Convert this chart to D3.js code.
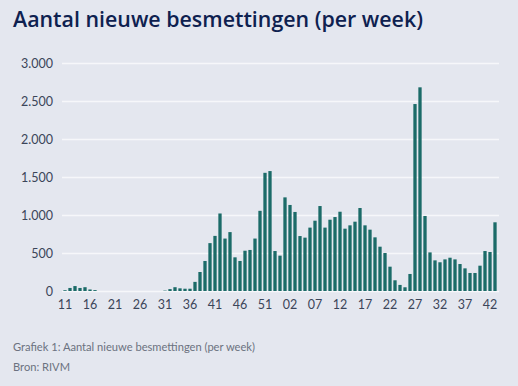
<!DOCTYPE html>
<html>
<head>
<meta charset="utf-8">
<script src="https://cdn.jsdelivr.net/npm/d3@7/dist/d3.min.js"></script>
<style>
  html, body { margin: 0; padding: 0; background: #e4e7ef; }
  svg { display: block; }
</style>
</head>
<body>
<svg id="chart" width="518" height="386"></svg>
<script>
// Week keys (year-week); 2020 had week 53, and the first days of 2021 are also reported as week 53
const weeks = [
  "2020-11","2020-12","2020-13","2020-14","2020-15","2020-16","2020-17","2020-18","2020-19","2020-20",
  "2020-21","2020-22","2020-23","2020-24","2020-25","2020-26","2020-27","2020-28","2020-29","2020-30",
  "2020-31","2020-32","2020-33","2020-34","2020-35","2020-36","2020-37","2020-38","2020-39","2020-40",
  "2020-41","2020-42","2020-43","2020-44","2020-45","2020-46","2020-47","2020-48","2020-49","2020-50",
  "2020-51","2020-52","2020-53","2021-53","2021-01","2021-02","2021-03","2021-04","2021-05","2021-06",
  "2021-07","2021-08","2021-09","2021-10","2021-11","2021-12","2021-13","2021-14","2021-15","2021-16",
  "2021-17","2021-18","2021-19","2021-20","2021-21","2021-22","2021-23","2021-24","2021-25","2021-26",
  "2021-27","2021-28","2021-29","2021-30","2021-31","2021-32","2021-33","2021-34","2021-35","2021-36",
  "2021-37","2021-38","2021-39","2021-40","2021-41","2021-42","2021-43"
];
const infections = [
  10, 40, 65, 40, 50, 20, 12, 0, 0, 0,
  0, 0, 0, 0, 0, 0, 0, 0, 0, 0,
  5, 25, 50, 35, 30, 30, 120, 250, 395, 630,
  725, 1020, 690, 775, 443, 395, 530, 540, 690, 1055,
  1555, 1578, 526, 465, 1232, 1132, 1040, 723, 702, 834,
  925, 1118, 834, 938, 973, 1043, 820, 864, 912, 1092,
  864, 807, 706, 583, 500, 320, 141, 80, 49, 224,
  2460, 2680, 987, 508, 403, 378, 416, 438, 416, 355,
  298, 237, 237, 333, 526, 513, 904
];
const yTicks = [0, 500, 1000, 1500, 2000, 2500, 3000];
const xTickWeeks = ["2020-11","2020-16","2020-21","2020-26","2020-31","2020-36","2020-41","2020-46","2020-51",
  "2021-02","2021-07","2021-12","2021-17","2021-22","2021-27","2021-32","2021-37","2021-42"];

const title = "Aantal nieuwe besmettingen (per week)";
const caption1 = "Grafiek 1: Aantal nieuwe besmettingen (per week)";
const caption2 = "Bron: RIVM";

const svg = d3.select("#chart");
const mLeft = 62, mRight = 499, mTop = 63, mBottom = 291;

svg.append("rect").attr("width", 518).attr("height", 386).attr("fill", "#e4e7ef");

const x = d3.scaleBand().domain(weeks).range([mLeft + 0.5, mRight - 1.5]).paddingInner(0.34).paddingOuter(0.17);
const y = d3.scaleLinear().domain([0, 3000]).range([mBottom, mTop]);

// gridlines
svg.append("g").selectAll("line").data(yTicks).join("line")
  .attr("x1", mLeft).attr("x2", mRight)
  .attr("y1", d => Math.round(y(d)) + 0.5).attr("y2", d => Math.round(y(d)) + 0.5)
  .attr("stroke", "#f6f7fa").attr("stroke-width", 1.3);

// y axis labels
const fmt = d => d3.format(",")(d).replace(/,/g, ".");
const yAxis = d3.axisLeft(y).tickValues(yTicks).tickFormat(fmt).tickSize(0).tickPadding(9);
svg.append("g").attr("transform", `translate(${mLeft},0)`).call(yAxis)
  .call(g => g.select(".domain").remove())
  .call(g => g.selectAll("text").attr("fill", "#3b4559").style("font-family", "Lato, 'Noto Sans', sans-serif").style("font-size", "12.5px"));

// bars
svg.append("g").selectAll("rect").data(weeks).join("rect")
  .attr("x", d => x(d))
  .attr("width", x.bandwidth())
  .attr("y", (d, i) => y(infections[i]))
  .attr("height", (d, i) => y(0) - y(infections[i]))
  .attr("fill", "#1b6b68");

// x axis labels
const xAxis = d3.axisBottom(x).tickValues(xTickWeeks).tickFormat(d => d.slice(5)).tickSize(0).tickPadding(9);
svg.append("g").attr("transform", `translate(0,${mBottom})`).call(xAxis)
  .call(g => g.select(".domain").remove())
  .call(g => g.selectAll("text").attr("fill", "#3b4559").style("font-family", "Lato, 'Noto Sans', sans-serif").style("font-size", "12.5px"));

// title
const t = svg.append("text").attr("x", 13).attr("y", 27)
  .attr("fill", "#0e2150")
  .style("font-family", "'Open Sans', sans-serif").style("font-weight", 600).style("font-size", "21px")
  .text(title);
const tw = t.node().getComputedTextLength();
t.style("font-size", (21 * 410 / tw).toFixed(2) + "px");

const c1 = svg.append("text").attr("x", 13).attr("y", 351)
  .attr("fill", "#6b7280")
  .style("font-family", "Lato, sans-serif").style("font-size", "11.5px")
  .text(caption1);
const cw = c1.node().getComputedTextLength();
const capSize = (11.5 * 242 / cw).toFixed(2) + "px";
c1.style("font-size", capSize);
svg.append("text").attr("x", 13).attr("y", 371)
  .attr("fill", "#6b7280")
  .style("font-family", "Lato, sans-serif").style("font-size", capSize)
  .text(caption2);
</script>
</body>
</html>
